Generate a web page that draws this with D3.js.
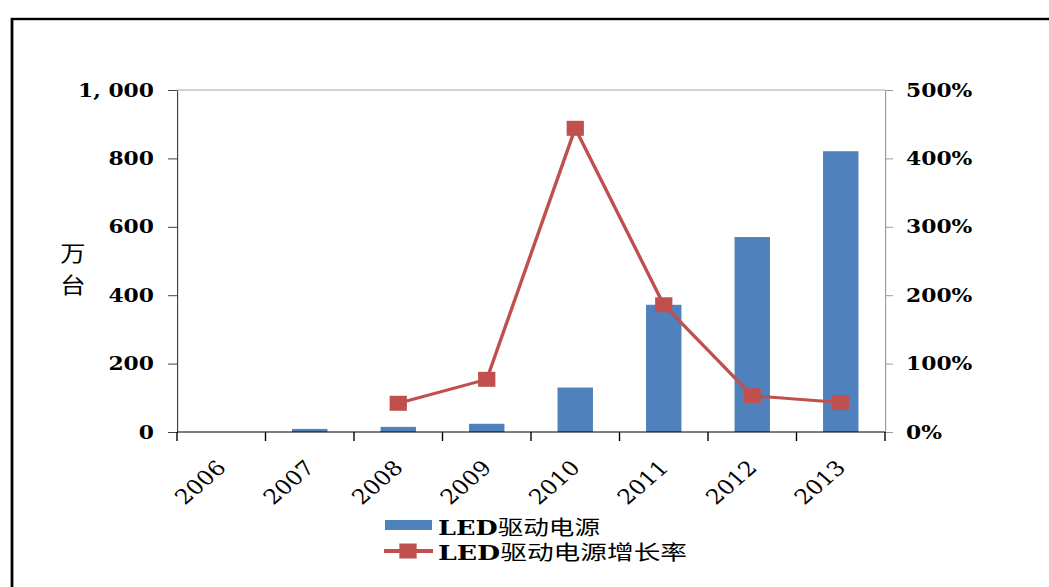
<!DOCTYPE html>
<html>
<head>
<meta charset="utf-8">
<script src="https://cdn.jsdelivr.net/npm/d3@7"></script>
<style>
  html, body { margin: 0; padding: 0; background: #fff; }
  svg { display: block; }
</style>
</head>
<body>
<svg id="chart" width="1049" height="587"></svg>
<script>
// Annual output of LED driver power supplies (万台) and year-on-year growth
const years = ["2006", "2007", "2008", "2009", "2010", "2011", "2012", "2013"];
const volume = [0, 9, 15, 24, 130, 372, 570, 821];
const growth = [null, null, 0.42, 0.77, 4.44, 1.86, 0.53, 0.43];

const volumeTicks = [0, 200, 400, 600, 800, 1000];
const volumeTickLabels = ["0", "200", "400", "600", "800", "1, 000"];
const growthTicks = [0, 1, 2, 3, 4, 5];
const growthTickLabels = ["0%", "100%", "200%", "300%", "400%", "500%"];

const seriesNames = ["LED驱动电源", "LED驱动电源增长率"];
const unitLabel = ["万", "台"];

// The drawing is laid out in screen pixels but rendered with a slight
// horizontal stretch, so x positions are divided by SX before use.
const SX = 1.15;
const px = v => v / SX;

const BLUE = "#4f81bd";
const RED = "#c0504d";
const SERIF = "'DejaVu Serif', 'Liberation Serif', serif";
const CJK = "'Noto Sans CJK SC', sans-serif";

const svg = d3.select("#chart");
const g = svg.append("g").attr("transform", `scale(${SX},1)`);

const plot = { left: px(177), right: px(885), top: 90, bottom: 432 };

// outer frame (runs off the right and bottom edges)
g.append("rect")
  .attr("x", px(12)).attr("y", 19)
  .attr("width", px(1200)).attr("height", 700)
  .attr("fill", "none").attr("stroke", "#000").attr("stroke-width", 2.4);

// scales
const x = d3.scaleBand().domain(years)
  .range([plot.left, plot.right])
  .paddingInner(0.6).paddingOuter(0.3);
const y = d3.scaleLinear().domain([0, 1000]).range([plot.bottom, plot.top]);
const y2 = d3.scaleLinear().domain([0, 5]).range([plot.bottom, plot.top]);

// plot area top edge
g.append("line")
  .attr("x1", plot.left).attr("x2", plot.right)
  .attr("y1", plot.top).attr("y2", plot.top)
  .attr("stroke", "#a6a6a6").attr("stroke-width", 1);

// left axis
const leftAxis = g.append("g")
  .attr("transform", `translate(${plot.left},0)`)
  .call(d3.axisLeft(y)
    .tickValues(volumeTicks)
    .tickFormat((d, i) => volumeTickLabels[i])
    .tickSize(px(9)).tickSizeOuter(0).tickPadding(px(14)));
leftAxis.select(".domain").attr("stroke", "#404040");
leftAxis.selectAll(".tick line").attr("stroke", "#404040");

// right axis
const rightAxis = g.append("g")
  .attr("transform", `translate(${plot.right},0)`)
  .call(d3.axisRight(y2)
    .tickValues(growthTicks)
    .tickFormat((d, i) => growthTickLabels[i])
    .tickSize(px(8)).tickSizeOuter(0).tickPadding(px(13)));
rightAxis.select(".domain").attr("stroke", "#9a9a9a");
rightAxis.selectAll(".tick line").attr("stroke", "#9a9a9a");

[leftAxis, rightAxis].forEach(a => a.selectAll(".tick text")
  .attr("font-family", SERIF).attr("font-size", 19)
  .attr("font-weight", "bold").attr("fill", "#000"));

// bars
g.append("g").selectAll("rect")
  .data(years.map((yr, i) => ({ yr, v: volume[i] })))
  .join("rect")
  .attr("x", d => x(d.yr))
  .attr("width", x.bandwidth())
  .attr("y", d => y(d.v))
  .attr("height", d => y(0) - y(d.v))
  .attr("fill", BLUE);

// category axis along the bottom
const cx = d => x(d) + x.bandwidth() / 2;
const bounds = years.map(d => cx(d) - x.step() / 2).concat([plot.right]);
g.append("line")
  .attr("x1", plot.left).attr("x2", plot.right)
  .attr("y1", plot.bottom).attr("y2", plot.bottom)
  .attr("stroke", "#000").attr("stroke-width", 1.2);
g.append("g").selectAll("line")
  .data(bounds)
  .join("line")
  .attr("x1", d => d).attr("x2", d => d)
  .attr("y1", plot.bottom).attr("y2", plot.bottom + 9)
  .attr("stroke", "#000").attr("stroke-width", 1.2);
g.append("g").selectAll("text")
  .data(years)
  .join("text")
  .attr("transform", d => `translate(${cx(d) + px(6)},469) rotate(-45)`)
  .attr("text-anchor", "end")
  .attr("font-family", SERIF).attr("font-size", 20.5)
  .text(d => d);

// growth line with square markers
const pts = years.map((yr, i) => ({ yr, v: growth[i] })).filter(d => d.v != null);
g.append("path")
  .datum(pts)
  .attr("fill", "none").attr("stroke", RED).attr("stroke-width", 3)
  .attr("stroke-linejoin", "round")
  .attr("d", d3.line().x(d => cx(d.yr)).y(d => y2(d.v)));
const MK = 15;
g.append("g").selectAll("rect")
  .data(pts)
  .join("rect")
  .attr("x", d => cx(d.yr) - MK / 2)
  .attr("y", d => y2(d.v) - MK / 2)
  .attr("width", MK).attr("height", MK)
  .attr("fill", RED);

// unit label, stacked vertically
g.append("g").selectAll("text")
  .data(unitLabel)
  .join("text")
  .attr("x", px(73)).attr("y", (d, i) => 261 + i * 32)
  .attr("text-anchor", "middle")
  .attr("font-family", CJK).attr("font-size", 22)
  .text(d => d);

// legend
const lg = g.append("g");
lg.append("rect")
  .attr("x", px(385)).attr("y", 520)
  .attr("width", px(47)).attr("height", 10)
  .attr("fill", BLUE);
lg.append("line")
  .attr("x1", px(384)).attr("x2", px(433))
  .attr("y1", 551).attr("y2", 551)
  .attr("stroke", RED).attr("stroke-width", 4);
lg.append("rect")
  .attr("x", px(408) - 7.5).attr("y", 543.5)
  .attr("width", 15).attr("height", 15)
  .attr("fill", RED);

const legendWidths = [px(162), px(249)];
seriesNames.forEach((name, i) => {
  const t = lg.append("text")
    .attr("x", px(438)).attr("y", 535 + i * 25)
    .attr("font-size", 20)
    .attr("textLength", legendWidths[i])
    .attr("lengthAdjust", "spacingAndGlyphs");
  t.append("tspan").attr("font-family", SERIF).attr("font-weight", "bold").text(name.slice(0, 3));
  t.append("tspan").attr("font-family", CJK).text(name.slice(3));
});
</script>
</body>
</html>
